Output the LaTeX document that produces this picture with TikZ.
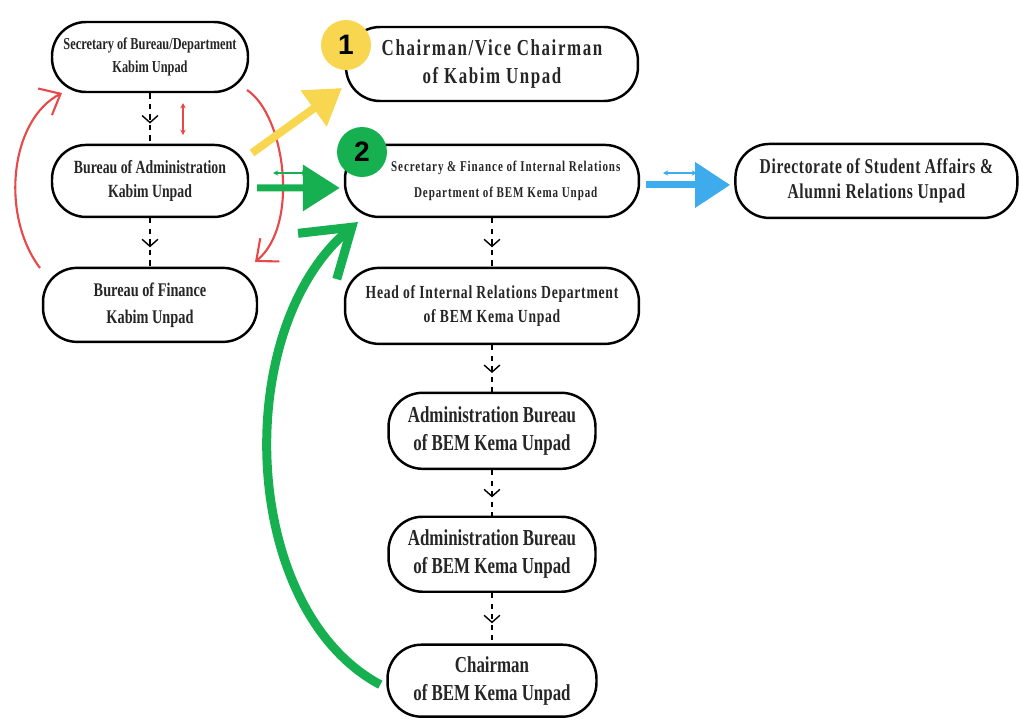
\documentclass[tikz,border=0pt]{standalone}
\usepackage{fontspec}
\setmainfont{Liberation Serif}[FakeStretch=0.74]
\newfontfamily\numfont{Liberation Sans}
\usepackage{tikz}
\usetikzlibrary{positioning,arrows.meta,decorations.markings}

\definecolor{c-yellow}{RGB}{248,214,80}
\definecolor{c-green}{RGB}{22,176,80}
\definecolor{c-blue}{RGB}{62,172,236}
\definecolor{c-red}{RGB}{232,72,72}

\begin{document}
\begin{tikzpicture}
[
x=0.02cm, y=-0.02cm,
box-a/.style={rectangle, rounded corners=0.68cm, draw, line width=1.4pt, align=center, text=black!85},
text-s/.style={font=\bfseries\fontsize{9.5}{13}\selectfont},
text-a/.style={font=\bfseries\fontsize{10.6}{14.2}\selectfont},
text-f/.style={font=\bfseries\fontsize{11}{15.3}\selectfont},
text-w/.style={font=\bfseries\fontsize{13}{16}\selectfont\addfontfeatures{LetterSpace=7}},
text-c/.style={font=\bfseries\fontsize{8.5}{14.7}\selectfont\addfontfeatures{LetterSpace=6}},
text-d/.style={font=\bfseries\fontsize{12}{14.2}\selectfont\addfontfeatures{LetterSpace=3}},
text-h/.style={font=\bfseries\fontsize{10.5}{13.6}\selectfont\addfontfeatures{LetterSpace=4}},
text-l/.style={font=\bfseries\fontsize{13}{15.8}\selectfont},
num-a/.style={circle, minimum size=1cm, inner sep=0pt, font=\numfont\bfseries\fontsize{16}{16}\selectfont},
dash-arrow/.style={dashed, line width=0.8pt, postaction={decorate},
  decoration={markings, mark=at position 0.6 with {\arrow[solid]{Straight Barb[length=4pt,width=9pt]}}}},
arrow-y/.style={c-yellow, line width=0.16cm, -{Triangle[length=0.7cm,width=0.85cm]}},
arrow-g/.style={c-green, line width=0.14cm, -{Triangle[length=0.74cm,width=0.9cm]}},
arrow-b/.style={c-blue, line width=0.14cm, -{Triangle[length=0.7cm,width=0.88cm]}},
arrow-r/.style={c-red, line width=1.2pt, -{Straight Barb[length=0.35cm,width=0.6cm]}},
arrow-big/.style={c-green, line width=0.18cm, -{Straight Barb[length=0.9cm,width=1.2cm]}},
small-arrow/.style={line width=0.9pt, {Stealth[length=3pt,width=3pt]}-{Stealth[length=3pt,width=3pt]}}
]

\useasboundingbox (0,0) rectangle (1019,718);

% Kabim column
\node (sec-bureau)   [box-a, text-s, minimum width=3.92cm, minimum height=1.40cm] at (150,57)
                     {Secretary of Bureau/Department\\Kabim Unpad};
\node (adm-bureau)   [box-a, text-a, minimum width=3.92cm, minimum height=1.44cm, below = 1.01cm of sec-bureau]
                     {Bureau of Administration\\Kabim Unpad};
\node (fin-bureau)   [box-a, text-f, minimum width=4.28cm, minimum height=1.48cm, below = 0.97cm of adm-bureau]
                     {Bureau of Finance\\Kabim Unpad};

% BEM column
\node (chair-vice)   [box-a, text-w, minimum width=5.84cm, minimum height=1.48cm] at (492,64)
                     {Chairman/Vice Chairman\\of Kabim Unpad};
\node (sec-fin)      [box-a, text-c, minimum width=5.88cm, minimum height=1.44cm, below = 0.83cm of chair-vice]
                     {\hspace*{0.55cm}Secretary \& Finance of Internal Relations\\\hspace*{0.55cm}Department of BEM Kema Unpad};
\node (directorate)  [box-a, text-d, minimum width=5.64cm, minimum height=1.48cm, right = 1.88cm of sec-fin]
                     {Directorate of Student Affairs \&\\Alumni Relations Unpad};
\node (head-dept)    [box-a, text-h, minimum width=5.88cm, minimum height=1.52cm, below = 0.97cm of sec-fin]
                     {Head of Internal Relations Department\\of BEM Kema Unpad};
\node (adm-bem-1)    [box-a, text-l, minimum width=4.14cm, minimum height=1.52cm, below = 0.93cm of head-dept]
                     {Administration Bureau\\of BEM Kema Unpad};
\node (adm-bem-2)    [box-a, text-l, minimum width=4.14cm, minimum height=1.50cm, below = 0.91cm of adm-bem-1]
                     {Administration Bureau\\of BEM Kema Unpad};
\node (chairman)     [box-a, text-l, minimum width=4.18cm, minimum height=1.44cm, below = 1.01cm of adm-bem-2]
                     {Chairman\\of BEM Kema Unpad};

% number badges
\node (num-1) [num-a, fill=c-yellow] at (346,45)  {1};
\node (num-2) [num-a, fill=c-green]  at (362,152) {2};

% dashed flow
\draw [dash-arrow] (sec-bureau) -- (adm-bureau);
\draw [dash-arrow] (adm-bureau) -- (fin-bureau);
\draw [dash-arrow] (sec-fin)    -- (head-dept);
\draw [dash-arrow] (head-dept)  -- (adm-bem-1);
\draw [dash-arrow] (adm-bem-1)  -- (adm-bem-2);
\draw [dash-arrow] (adm-bem-2)  -- (chairman);

% free ends
\coordinate (red-l-start) at (40,268);
\coordinate (red-l-end)   at (62,93);
\coordinate (red-r-start) at (247,90);
\coordinate (red-r-end)   at (255,262);
\coordinate (yel-start)   at (252,153);
\coordinate (yel-end)     at (342,88);
\coordinate (big-end)     at (358,222);
\coordinate (red-top)     at (183,103);
\coordinate (red-bot)     at (183,135);
\coordinate (grn-left)    at (273,173);
\coordinate (grn-right)   at (307,173);
\coordinate (blu-left)    at (663,173);
\coordinate (blu-right)   at (697,173);

% red loop
\draw [arrow-r] (red-l-start) .. controls (0,215) and (10,120) .. (red-l-end);
\draw [arrow-r] (red-r-start) .. controls (285,115) and (300,225) .. (red-r-end);

% thick arrows
\draw [arrow-y] (yel-start) -- (yel-end);
\draw [arrow-g] ([shift={(8,7)}]adm-bureau.east) -- ([shift={(-4,7)}]sec-fin.west);
\draw [arrow-b] ([shift={(6,4)}]sec-fin.east) -- ([shift={(-4,4)}]directorate.west);
\draw [arrow-big] ([shift={(-6,4)}]chairman.west) .. controls (240,610) and (230,330) .. (big-end);

% small double arrows
\draw [small-arrow, c-red]   (red-top)  -- (red-bot);
\draw [small-arrow, c-green] (grn-left) -- (grn-right);
\draw [small-arrow, c-blue]  (blu-left) -- (blu-right);

\end{tikzpicture}
\end{document}
